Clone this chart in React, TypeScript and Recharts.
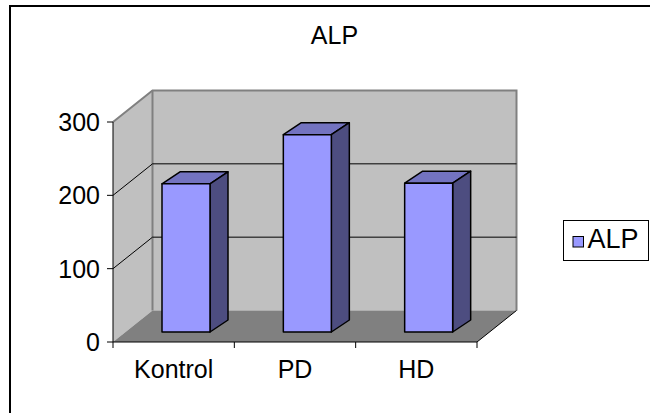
import React from "react"
import { BarChart, Bar, XAxis, YAxis, Legend, ReferenceArea, ReferenceLine } from "recharts"

const categories = ["Kontrol", "PD", "HD"]
const alpValues = [202, 269, 203]
const yTicks = [0, 100, 200, 300]
const gridValues = [100, 200]

const data = categories.map((name, i) => ({ name, ALP: alpValues[i] }))

// oblique depth of the plot box (back wall offset) and of each bar
const DEPTH_X = 39.5
const DEPTH_Y = 31.5
const BAR_SHIFT_X = 12
const BAR_SHIFT_Y = 10
const BAR_DX = 18
const BAR_DY = 12

const FONT = "'Liberation Sans', Arial, sans-serif"

// side wall, back wall and floor of the 3D box
function Walls(props: any) {
  const { x, y, width, height } = props
  const bottom = y + height
  const right = x + width
  return (
    <g>
      <polygon
        points={`${x},${bottom} ${x + DEPTH_X},${bottom - DEPTH_Y} ${x + DEPTH_X},${y - DEPTH_Y} ${x},${y}`}
        fill="#c0c0c0"
      />
      <rect x={x + DEPTH_X} y={y - DEPTH_Y} width={width} height={height} fill="#c0c0c0" />
      <polygon
        points={`${x},${bottom} ${right},${bottom} ${right + DEPTH_X},${bottom - DEPTH_Y} ${x + DEPTH_X},${bottom - DEPTH_Y}`}
        fill="#808080"
      />
      <polyline
        points={`${x},${y} ${x + DEPTH_X},${y - DEPTH_Y} ${right + DEPTH_X},${y - DEPTH_Y} ${right + DEPTH_X},${bottom - DEPTH_Y}`}
        fill="none"
        stroke="#808080"
        strokeWidth={2}
      />
      <line x1={x + DEPTH_X} y1={y - DEPTH_Y} x2={x + DEPTH_X} y2={bottom - DEPTH_Y} stroke="#808080" strokeWidth={2} />
      <line x1={right} y1={bottom} x2={right + DEPTH_X} y2={bottom - DEPTH_Y} stroke="#000" strokeWidth={1} />
    </g>
  )
}

// gridline runs up the side wall, then across the back wall
function WallGridLine(props: any) {
  const { x1, y1, x2 } = props
  return (
    <polyline
      points={`${x1},${y1} ${x1 + DEPTH_X},${y1 - DEPTH_Y} ${x2 + DEPTH_X},${y1 - DEPTH_Y}`}
      fill="none"
      stroke="#000"
      strokeWidth={1}
    />
  )
}

function Bar3D(props: any) {
  const { x, y, width, height } = props
  const fx = x + BAR_SHIFT_X
  const fy = y - BAR_SHIFT_Y
  const r = fx + width
  return (
    <g stroke="#000" strokeWidth={1.5} strokeLinejoin="round">
      <polygon
        points={`${fx},${fy} ${r},${fy} ${r + BAR_DX},${fy - BAR_DY} ${fx + BAR_DX},${fy - BAR_DY}`}
        fill="#7373c0"
      />
      <polygon
        points={`${r},${fy} ${r + BAR_DX},${fy - BAR_DY} ${r + BAR_DX},${fy - BAR_DY + height} ${r},${fy + height}`}
        fill="#4d4d80"
      />
      <rect x={fx} y={fy} width={width} height={height} fill="#9999ff" />
    </g>
  )
}

function CategoryTick(props: any) {
  const { x, y, payload, index, visibleTicksCount } = props
  const half = payload?.offset ?? 60.7
  const last = index === (visibleTicksCount ?? categories.length) - 1
  return (
    <g>
      <line x1={x - half} y1={y} x2={x - half} y2={y + 6} stroke="#000" />
      {last && <line x1={x + half} y1={y} x2={x + half} y2={y + 6} stroke="#000" />}
      <text x={x} y={y + 36} textAnchor="middle" fontSize={25} fill="#000" fontFamily={FONT}>
        {payload.value}
      </text>
    </g>
  )
}

function LegendBox() {
  return (
    <div
      style={{
        width: 86,
        height: 41,
        boxSizing: "border-box",
        border: "1px solid #000",
        background: "#fff",
        position: "relative",
        fontFamily: FONT,
      }}
    >
      <svg width={86} height={41} style={{ position: "absolute", left: 0, top: 0 }}>
        <rect x={9} y={15.5} width={10.5} height={10.5} fill="#9999ff" stroke="#000" strokeWidth={1} />
        <text x={23.5} y={27} fontSize={27} fill="#000" fontFamily={FONT}>
          ALP
        </text>
      </svg>
    </div>
  )
}

export default function App() {
  return (
    <div style={{ position: "absolute", left: 0, top: 0, width: 650, height: 413, overflow: "hidden", background: "#fff" }}>
      <div
        style={{
          position: "absolute",
          left: 9,
          top: 5,
          width: 700,
          height: 450,
          border: "2px solid #000",
        }}
      />
      <div
        style={{
          position: "absolute",
          left: 234.5,
          top: 23,
          width: 200,
          textAlign: "center",
          fontSize: 25,
          lineHeight: "25px",
          fontFamily: FONT,
          color: "#000",
        }}
      >
        ALP
      </div>
      <div style={{ position: "absolute", left: 0, top: 0 }}>
        <BarChart
          width={650}
          height={413}
          data={data}
          margin={{ top: 122, right: 87, bottom: 41, left: 53 }}
          style={{ fontFamily: FONT }}
        >
          <ReferenceArea y1={0} y2={300} shape={<Walls />} ifOverflow="visible" zIndex={-200} />
          {gridValues.map((v) => (
            <ReferenceLine key={v} y={v} shape={<WallGridLine />} ifOverflow="visible" zIndex={-150} />
          ))}
          <XAxis
            dataKey="name"
            axisLine={{ stroke: "#000" }}
            tickLine={false}
            tickSize={0}
            tickMargin={0}
            interval={0}
            tick={<CategoryTick />}
          />
          <YAxis
            width={60}
            domain={[0, 300]}
            ticks={yTicks}
            axisLine={{ stroke: "#000" }}
            tickLine={{ stroke: "#000" }}
            tickSize={6}
            tickMargin={7}
            tick={{ fill: "#000", fontSize: 25, fontFamily: FONT }}
          />
          <Legend
            layout="vertical"
            align="right"
            verticalAlign="middle"
            content={<LegendBox />}
            wrapperStyle={{ left: 563, top: 220, right: "auto", width: 86 }}
          />
          <Bar dataKey="ALP" barSize={48} shape={<Bar3D />} isAnimationActive={false} />
        </BarChart>
      </div>
    </div>
  )
}
